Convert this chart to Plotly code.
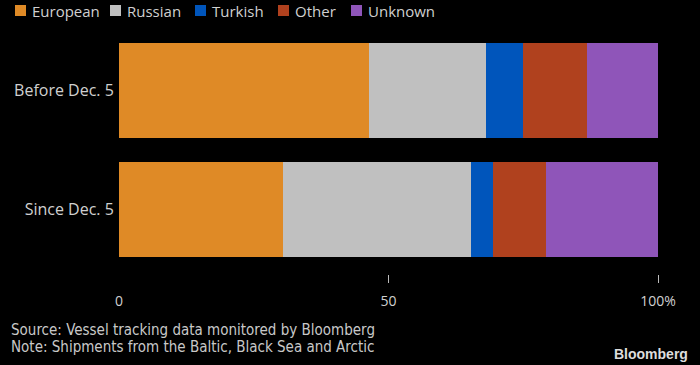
import plotly.graph_objects as go

categories = ["Since Dec. 5", "Before Dec. 5"]
series_names = ["European", "Russian", "Turkish", "Other", "Unknown"]
european = [30.5, 46.4]
russian = [34.8, 21.7]
turkish = [4.0, 6.9]
other = [10.0, 11.8]
unknown = [20.7, 13.2]
tick_vals = [0, 50, 100]
tick_text = ["0", "50", "100%"]
colors = ["#DF8A26", "#C0C0C0", "#0055BB", "#B0411E", "#8F55B9"]

values = [european, russian, turkish, other, unknown]

W, H = 700, 365
ML, MR, MT, MB = 119, 42, 30, 91
PW = W - ML - MR
PH = H - MT - MB


def px_x(p):
    return (p - ML) / PW


def px_y(p):
    return (H - MB - p) / PH


fig = go.Figure()
for name, vals, col in zip(series_names, values, colors):
    fig.add_trace(go.Bar(
        y=categories, x=vals, name=name, orientation="h",
        marker=dict(color=col, line=dict(width=0)),
        width=0.8, hoverinfo="x+name", showlegend=False,
    ))
# invisible trace to carry the tick-mark axis
fig.add_trace(go.Scatter(x=[0, 100], y=[None, None], xaxis="x2", showlegend=False,
                         mode="lines", hoverinfo="skip"))

font_main = "Open Sans, Liberation Sans, sans-serif"
fig.update_layout(
    barmode="stack",
    width=W, height=H,
    paper_bgcolor="#000000", plot_bgcolor="#000000",
    margin=dict(l=ML, r=MR, t=MT, b=MB, autoexpand=False),
    font=dict(family=font_main, color="#D0D0D0", size=15),
    showlegend=False,
    xaxis=dict(range=[0, 100], tickvals=tick_vals, ticktext=tick_text,
               showgrid=False, zeroline=False, showline=False,
               ticks="outside", ticklen=14, tickcolor="rgba(0,0,0,0)",
               tickfont=dict(size=14, color="#D0D0D0"), fixedrange=True),
    xaxis2=dict(range=[0, 100], overlaying="x", side="bottom", anchor="y",
                tickvals=[50, 100], ticks="outside", ticklen=8, tickwidth=1,
                tickcolor="#BBBBBB", showticklabels=False, showgrid=False,
                zeroline=False, showline=False, fixedrange=True),
    yaxis=dict(type="category", range=[-0.544, 1.51], showgrid=False,
               zeroline=False, showline=False, ticks="", ticksuffix=" ",
               tickfont=dict(size=16, color="#D0D0D0"), fixedrange=True),
)

# custom legend (squares + labels) across the top
legend_sq_x = [15, 110, 195, 278, 351]
for name, col, sx in zip(series_names, colors, legend_sq_x):
    fig.add_shape(type="rect", xref="paper", yref="paper",
                  x0=px_x(sx), x1=px_x(sx + 11), y0=px_y(16), y1=px_y(5),
                  fillcolor=col, line=dict(width=0))
    fig.add_annotation(text=name, xref="paper", yref="paper",
                       x=px_x(sx + 15), y=px_y(10.5), xanchor="left", yanchor="middle",
                       showarrow=False, font=dict(size=15, color="#D0D0D0"))

foot_font = dict(family="Liberation Sans Narrow, DejaVu Sans Condensed, sans-serif",
                 size=15, color="#C8C8C8")
fig.add_annotation(text="Source: Vessel tracking data monitored by Bloomberg",
                   xref="paper", yref="paper", x=px_x(9), y=px_y(330), xanchor="left",
                   yanchor="middle", showarrow=False, font=foot_font)
fig.add_annotation(text="Note: Shipments from the Baltic, Black Sea and Arctic",
                   xref="paper", yref="paper", x=px_x(9), y=px_y(347), xanchor="left",
                   yanchor="middle", showarrow=False, font=foot_font)
fig.add_annotation(text="<b>Bloomberg</b>", xref="paper", yref="paper", x=px_x(690), y=px_y(354),
                   xanchor="right", yanchor="middle", showarrow=False,
                   font=dict(family="Liberation Sans, Arial, sans-serif", size=14, color="#DDDDDD"))

fig.write_html("out.html", config={"displayModeBar": False},
               post_script="document.body.style.margin='0';document.body.style.overflow='hidden';")
